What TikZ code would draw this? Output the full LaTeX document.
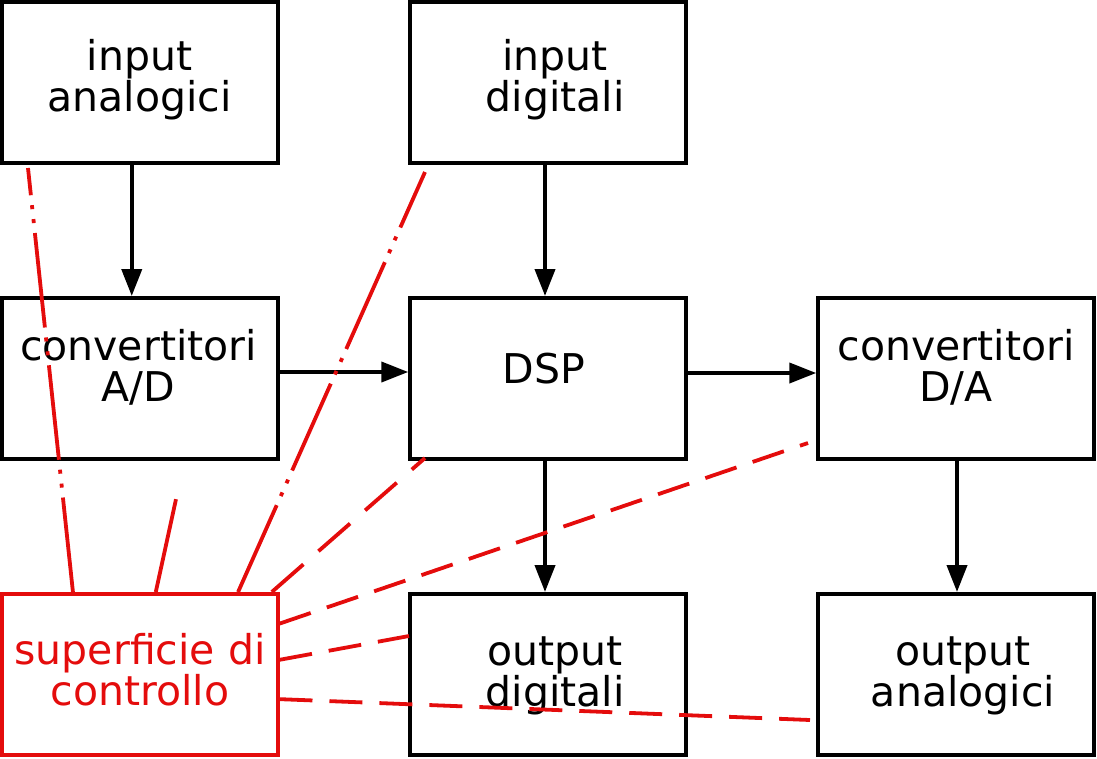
\documentclass[tikz,border=0pt]{standalone}
\usepackage{fontspec}
\setmainfont{DejaVu Sans}
\usetikzlibrary{arrows.meta}
\definecolor{ctrlred}{RGB}{228,12,12}
\begin{document}
\begin{tikzpicture}[x=1pt,y=-1pt,
  box/.style={draw=black,line width=4pt,minimum width=275.5pt,minimum height=161pt,inner sep=0pt},
  cbox/.style={box,draw=ctrlred},
  lbl/.style={font=\fontsize{41}{41}\selectfont,align=center,inner sep=0pt},
  arr/.style={line width=4pt,-{Triangle[length=27pt,width=20pt]}},
  ctrlA/.style={draw=ctrlred,line width=3.8pt,dash pattern=on 95pt off 10pt on 4pt off 10pt on 4pt off 10pt},
  ctrlB/.style={draw=ctrlred,line width=3.8pt,dash pattern=on 33pt off 17pt}]
\useasboundingbox (0,0) rectangle (1097,758);

% boxes
\node[box]  (ia)  at (139.75,82.5)  {};
\node[box]  (id)  at (548,82.5)     {};
\node[box]  (ad)  at (139.75,378.5) {};
\node[box]  (dsp) at (548,378.5)    {};
\node[box]  (da)  at (956,378.5)    {};
\node[cbox] (cs)  at (139.75,674.5) {};
\node[box]  (od)  at (548,674.5)    {};
\node[box]  (oa)  at (956,674.5)    {};

% texts
\node[lbl] (ia-t)  at (139.5,80)  {input\\analogici};
\node[lbl] (id-t)  at (555,80)    {input\\digitali};
\node[lbl] (ad-t)  at (138.5,367.2) {convertitori\\A/D};
\node[lbl] (dsp-t) at (544,368.4) {DSP};
\node[lbl] (da-t)  at (956,367.2) {convertitori\\D/A};
\node[lbl] (od-t)  at (555,675.9) {output\\digitali};
\node[lbl] (oa-t)  at (963,676.3) {output\\analogici};
\node[lbl,text=ctrlred] (cs-t) at (140,669.3) {superficie di\\controllo};

% signal arrows
\draw[arr] ([xshift=-8pt]ia.south) -- ([xshift=-8pt]ad.north);
\draw[arr] ([xshift=-3pt]id.south) -- ([xshift=-3pt]dsp.north);
\draw[arr] ([yshift=6.5pt]ad.east) -- ([yshift=6.5pt]dsp.west);
\draw[arr] ([yshift=5.5pt]dsp.east) -- ([yshift=5.5pt]da.west);
\draw[arr] ([xshift=-3pt]dsp.south) -- ([xshift=-3pt]od.north);
\draw[arr] ([xshift=1pt]da.south) -- ([xshift=1pt]oa.north);

% control connections
\coordinate (e1) at (28,168);
\coordinate (e2) at (178,490);
\coordinate (e3) at (425,172);
\coordinate (e4) at (425,458);
\coordinate (e5) at (808,443);
\coordinate (e6) at (409,636);
\coordinate (e7) at (810,720);
\draw[ctrlA] (cs.129.4) -- (e1);
\draw[ctrlA] (cs.79.5) -- (e2);
\draw[ctrlA] (cs.40) -- (e3);
\draw[ctrlB,dash pattern=on 42pt off 20pt] (cs.32.75) -- (e4);
\draw[ctrlB] (cs.20.6) -- (e5);
\draw[ctrlB] (cs.6.75) -- (e6);
\draw[ctrlB] (cs.-10.36) -- (e7);
\end{tikzpicture}
\end{document}
